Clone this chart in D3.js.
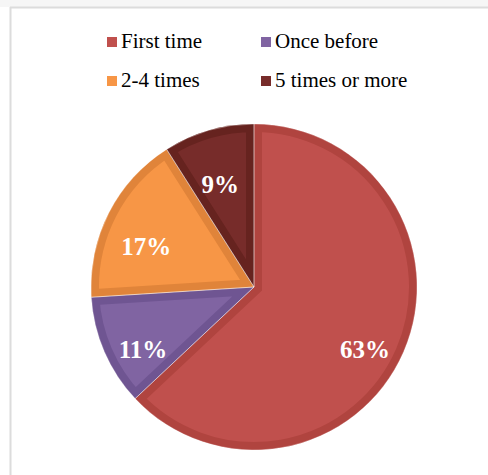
<!DOCTYPE html>
<html><head><meta charset="utf-8">
<script src="https://cdn.jsdelivr.net/npm/d3@7"></script>
<style>html,body{margin:0;padding:0;background:#fff;}svg{display:block;}
text{font-family:'Liberation Serif','Times New Roman',Times,serif;}</style>
</head><body>
<svg id="chart" width="488" height="475"></svg>
<script>
const categories = ["First time", "Once before", "2-4 times", "5 times or more"];
const values = [63, 11, 17, 9];
const labels = ["63%", "11%", "17%", "9%"];
const fills = ["#C0504D", "#8064A2", "#F79646", "#772C2A"];
const borders = ["#B0443F", "#6F5592", "#E0843A", "#66231F"];

const svg = d3.select("#chart");
// frame
svg.append("rect").attr("x", 0).attr("y", 0).attr("width", 488).attr("height", 7).attr("fill", "#f6f6f6");
svg.append("line").attr("x1", 10).attr("x2", 488).attr("y1", 7.5).attr("y2", 7.5).attr("stroke", "#dcdcdc").attr("stroke-width", 2);
svg.append("line").attr("x1", 10.5).attr("x2", 10.5).attr("y1", 7).attr("y2", 475).attr("stroke", "#dcdcdc").attr("stroke-width", 2);

const cx = 254, cy = 287, r = 163;
const pie = d3.pie().sort(null).value(d => d);
const arcs = pie(values);
const arc = d3.arc().innerRadius(0).outerRadius(r);
const g = svg.append("g").attr("transform", `translate(${cx},${cy})`);
const defs = svg.append("defs");
arcs.forEach((a, i) => {
  defs.append("clipPath").attr("id", "clip" + i).append("path").attr("d", arc(a));
});
g.selectAll("path.slice").data(arcs).join("path")
  .attr("class", "slice")
  .attr("d", arc)
  .attr("fill", (d, i) => fills[i])
  .attr("stroke", (d, i) => borders[i])
  .attr("stroke-width", 16)
  .attr("stroke-linejoin", "miter")
  .attr("clip-path", (d, i) => `url(#clip${i})`);
g.selectAll("path.sep").data(arcs).join("path")
  .attr("class", "sep")
  .attr("d", arc)
  .attr("fill", "none")
  .attr("stroke", "rgba(255,255,255,0.35)")
  .attr("stroke-width", 1);

const labelArc = d3.arc().innerRadius(121).outerRadius(121);
g.selectAll("text.lbl").data(arcs).join("text")
  .attr("class", "lbl")
  .attr("transform", d => { const c = labelArc.centroid(d); return `translate(${c[0]},${c[1] + 14})`; })
  .attr("text-anchor", "middle")
  .attr("dominant-baseline", "central")
  .attr("font-weight", "bold")
  .attr("font-size", 25)
  .attr("fill", "#fff")
  .text((d, i) => labels[i]);

// legend
const colX = [107, 261], rowY = [37, 76];
const leg = svg.append("g");
categories.forEach((c, i) => {
  const x = colX[i % 2], y = rowY[Math.floor(i / 2)];
  leg.append("rect").attr("x", x).attr("y", y).attr("width", 10).attr("height", 10).attr("fill", fills[i]);
  leg.append("text").attr("x", x + 14).attr("y", y + 11)
    .attr("font-size", 21).attr("fill", "#000").text(c);
});
</script>
</body></html>
